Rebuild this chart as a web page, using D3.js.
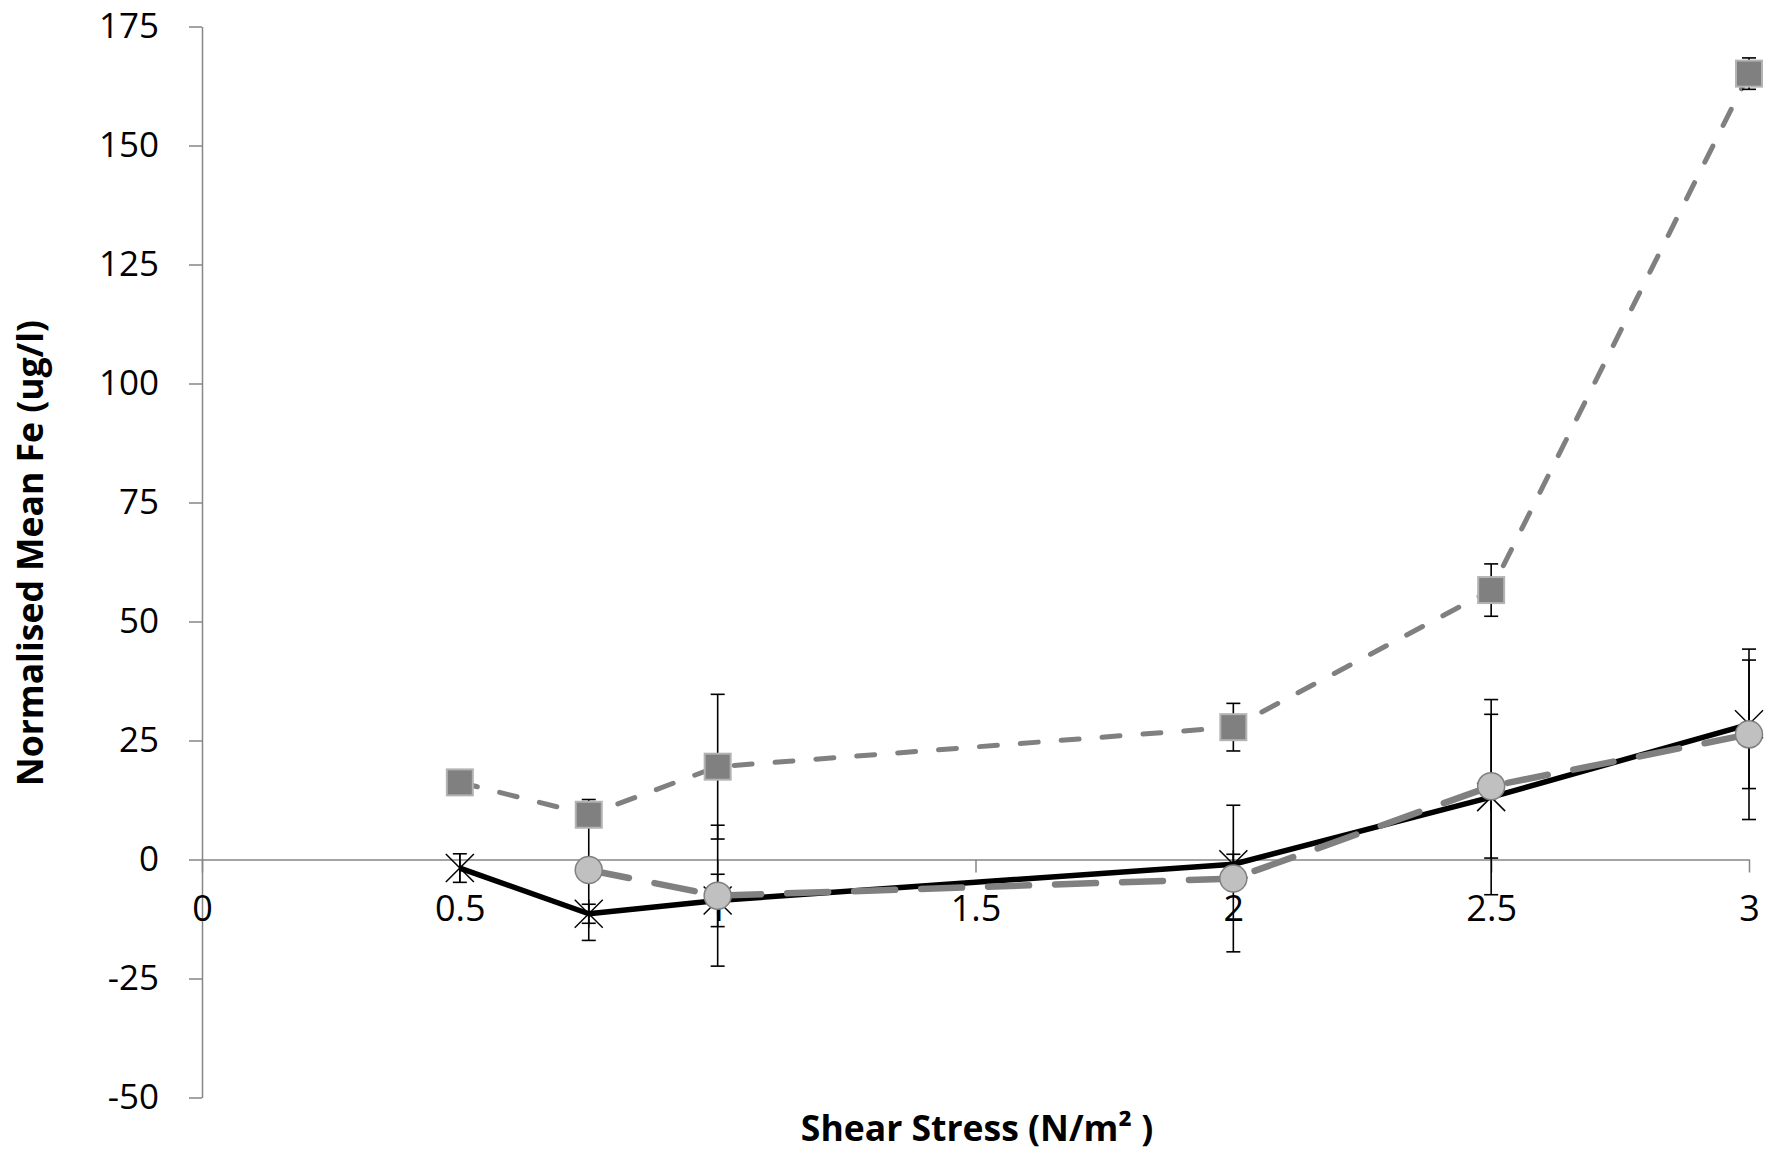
<!DOCTYPE html>
<html>
<head>
<meta charset="utf-8">
<script src="https://cdn.jsdelivr.net/npm/d3@7"></script>
<style>
  body { margin: 0; background: #fff; }
  svg { display: block; font-family: "Open Sans", sans-serif; }
</style>
</head>
<body>
<svg id="chart" width="1775" height="1155"></svg>
<script>
// shear stress values (N/m2)
const shearX = [0.5, 0.75, 1, 2, 2.5, 3];
const circleX = [0.75, 1, 2, 2.5, 3];

// series
const starMean = [-1.8, -11.4, -8.6, -1.0, 13.1, 28.4];
const starErr = [3, 2, 5.5, 2.1, 20.5, 13.5];
const circleMean = [-2.2, -7.6, -4.0, 15.4, 26.3];
const circleErr = [14.8, 14.8, 15.4, 15.1, 17.9];
const squareMean = [16.2, 9.4, 19.5, 27.8, 56.6, 165.1];
const squareErr = [0, 2, 15.2, 5, 5.5, 3.3];

const xTicks = [0, 0.5, 1, 1.5, 2, 2.5, 3];
const yTicks = [-50, -25, 0, 25, 50, 75, 100, 125, 150, 175];

const svg = d3.select("#chart");

const x = d3.scaleLinear().domain([0, 3]).range([202, 1749]);
const y = d3.scaleLinear().domain([-50, 175]).range([1097.5, 26.5]);

const axisColor = "#868686";
const plain = d => String(d);

// y axis
const yAxis = svg.append("g")
  .attr("transform", `translate(${x(0)},0)`)
  .call(d3.axisLeft(y).tickValues(yTicks).tickFormat(plain).tickSize(13).tickPadding(30).tickSizeOuter(0));
yAxis.select(".domain").attr("stroke", axisColor).attr("stroke-width", 1.5);
yAxis.selectAll(".tick line").attr("stroke", axisColor).attr("stroke-width", 1.5);
yAxis.selectAll(".tick text")
  .attr("font-size", 35).attr("font-family", "Open Sans").attr("fill", "#000");

// x axis sits on y = 0
const xAxis = svg.append("g")
  .attr("transform", `translate(0,${y(0)})`)
  .call(d3.axisBottom(x).tickValues(xTicks).tickFormat(plain).tickSize(13).tickPadding(23).tickSizeOuter(0));
xAxis.select(".domain").attr("stroke", axisColor).attr("stroke-width", 1.5);
xAxis.selectAll(".tick line").attr("stroke", axisColor).attr("stroke-width", 1.5);
xAxis.selectAll(".tick text")
  .attr("font-size", 36).attr("font-family", "Open Sans").attr("fill", "#000");

// axis titles
svg.append("text")
  .attr("transform", `translate(43,553) rotate(-90)`)
  .attr("text-anchor", "middle")
  .attr("font-size", 35.5).attr("font-weight", "bold")
  .text("Normalised Mean Fe (ug/l)");

svg.append("text")
  .attr("x", 977).attr("y", 1141)
  .attr("text-anchor", "middle")
  .attr("font-size", 35.5).attr("font-weight", "bold")
  .text("Shear Stress (N/m² )");

const line = d3.line().x(d => x(d[0])).y(d => y(d[1]));
const zip = (xs, ys) => xs.map((v, i) => [v, ys[i]]);

function errorBars(g, xs, means, errs) {
  const data = xs.map((v, i) => ({ x: v, m: means[i], e: errs[i] })).filter(d => d.e > 0);
  const eb = g.append("g").attr("stroke", "#000").attr("stroke-width", 1.6);
  eb.selectAll("line.v").data(data).join("line")
    .attr("x1", d => x(d.x)).attr("x2", d => x(d.x))
    .attr("y1", d => y(d.m + d.e)).attr("y2", d => y(d.m - d.e));
  [1, -1].forEach(s => {
    eb.selectAll("line.c" + (s > 0 ? "t" : "b")).data(data).join("line")
      .attr("x1", d => x(d.x) - 7).attr("x2", d => x(d.x) + 7)
      .attr("y1", d => y(d.m + s * d.e)).attr("y2", d => y(d.m + s * d.e));
  });
}

// star series (solid black)
const gStar = svg.append("g");
gStar.append("path")
  .attr("d", line(zip(shearX, starMean)))
  .attr("fill", "none").attr("stroke", "#000").attr("stroke-width", 5.5)
  .attr("stroke-linejoin", "round");
errorBars(gStar, shearX, starMean, starErr);
const starPts = gStar.selectAll("g.star").data(zip(shearX, starMean)).join("g")
  .attr("transform", d => `translate(${x(d[0])},${y(d[1])})`)
  .attr("stroke", "#000").attr("stroke-width", 1.5);
starPts.append("line").attr("x1", -14).attr("y1", -14).attr("x2", 14).attr("y2", 14);
starPts.append("line").attr("x1", -14).attr("y1", 14).attr("x2", 14).attr("y2", -14);
starPts.append("line").attr("x1", 0).attr("y1", -14).attr("x2", 0).attr("y2", 14);

// circle series (long dash)
const gCircle = svg.append("g");
gCircle.append("path")
  .attr("d", line(zip(circleX, circleMean)))
  .attr("fill", "none").attr("stroke", "#808080").attr("stroke-width", 6.5)
  .attr("stroke-dasharray", "41 26").attr("stroke-linecap", "round");
errorBars(gCircle, circleX, circleMean, circleErr);
gCircle.selectAll("circle").data(zip(circleX, circleMean)).join("circle")
  .attr("cx", d => x(d[0])).attr("cy", d => y(d[1])).attr("r", 13.5)
  .attr("fill", "#c0c0c0").attr("stroke", "#808080").attr("stroke-width", 1.5);

// square series (short dash)
const gSquare = svg.append("g");
gSquare.append("path")
  .attr("d", line(zip(shearX, squareMean)))
  .attr("fill", "none").attr("stroke", "#808080").attr("stroke-width", 5)
  .attr("stroke-dasharray", "18 23").attr("stroke-linecap", "round");
errorBars(gSquare, shearX, squareMean, squareErr);
gSquare.selectAll("rect").data(zip(shearX, squareMean)).join("rect")
  .attr("x", d => x(d[0]) - 13).attr("y", d => y(d[1]) - 13)
  .attr("width", 26).attr("height", 26)
  .attr("fill", "#808080").attr("stroke", "#b3b3b3").attr("stroke-width", 2);
</script>
</body>
</html>
